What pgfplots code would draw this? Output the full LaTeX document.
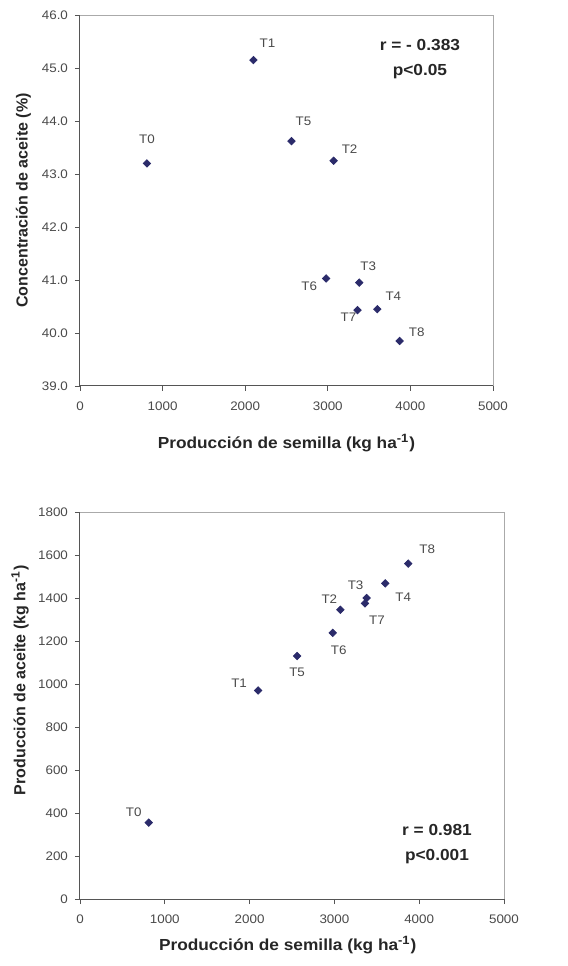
\documentclass[border=0pt]{standalone}
\usepackage{fontspec}
\setmainfont{Liberation Sans}
\newfontfamily\wide[FakeStretch=1.08]{Liberation Sans}
\usepackage{pgfplots}
\pgfplotsset{compat=1.18}
\usepackage{pgfplotstable}

\definecolor{markblue}{HTML}{2B2B6A}
\definecolor{axisgray}{HTML}{555555}
\definecolor{boxgray}{HTML}{AAAAAA}
\definecolor{ticktext}{HTML}{4A4A4A}

% x = semilla, y = aceite (%), label offsets dx dy in pt
\pgfplotstableread{
x    y      lab dx   dy
810  43.20  T0  0    12
2100 45.15  T1  7    8.5
3070 43.25  T2  8    6
3380 40.95  T3  4.5  8
3600 40.45  T4  8    6.5
2560 43.62  T5  6    10
2980 41.03  T6  -8.5 -4
3360 40.43  T7  -4.5 -3.5
3870 39.85  T8  8.5  4.5
}\conc

% x = semilla, y = aceite (kg/ha)
\pgfplotstableread{
x    y     lab dx   dy
810  355   T0  -7.5 5
2100 970   T1  -9.5 3.5
3070 1345  T2  -5.5 5.5
3380 1400  T3  -5.5 6.5
3600 1468  T4  9    -7
2560 1130  T5  0    -8
2980 1238  T6  3    -8.5
3360 1375  T7  6    -8.5
3870 1560  T8  9.5  7
}\prod

\pgfplotsset{
  scat/.style={
    scale only axis,
    clip=false,
    xmin=0, xmax=5000,
    xtick={0,1000,...,5000},
    tick align=outside,
    xtick pos=lower, ytick pos=left,
    major tick length=2.5pt,
    axis x line*=bottom, axis y line*=left,
    axis line style={-, axisgray, line width=0.5pt},
    tick style={axisgray, line width=0.4pt},
    ticklabel style={font=\wide\fontsize{6.2}{7}\selectfont, text=ticktext},
    xticklabel style={yshift=-2pt},
    /pgf/number format/assume math mode=true,
    /pgf/number format/1000 sep={},
    xlabel style={font=\wide\bfseries\fontsize{8}{9.5}\selectfont, text=black!85},
    ylabel style={font=\bfseries\fontsize{8}{9.5}\selectfont, text=black!85},
    xlabel={Producción de semilla (kg ha\textsuperscript{-1})},
  },
  tags/.style={
    only marks,
    mark=square*,
    mark size=1.3pt,
    mark options={rotate=45, fill=markblue, draw=markblue},
    point meta=explicit symbolic,
    nodes near coords,
    visualization depends on={\thisrow{dx} \as \dx},
    visualization depends on={\thisrow{dy} \as \dy},
    every node near coord/.append style={anchor=center, xshift=\dx pt, yshift=\dy pt,
      font=\wide\fontsize{6.2}{7}\selectfont, text=ticktext, inner sep=0pt},
  },
}

\begin{document}
\begin{tikzpicture}
\useasboundingbox (0,0) rectangle (284pt,483pt);

\begin{axis}[scat,
  at={(40pt,290pt)}, anchor=south west,
  width=206.5pt, height=185.5pt,
  ymin=39, ymax=46,
  ytick={39,40,...,46},
  yticklabel style={/pgf/number format/fixed, /pgf/number format/fixed zerofill, /pgf/number format/precision=1},
  ylabel={Concentración de aceite (\%)},
  xlabel style={at={(axis description cs:0.5,-0.1536)}, anchor=center},
  ylabel style={at={(axis description cs:-0.137,0.5)}, anchor=center},
]
\addplot[tags] table[x=x, y=y, meta=lab] {\conc};
\draw[boxgray, line width=0.4pt] (rel axis cs:0,1) -- (rel axis cs:1,1) -- (rel axis cs:1,0);
\node[font=\wide\bfseries\fontsize{8}{12.5}\selectfont, align=center, text=black!85]
  at (rel axis cs:0.823,0.88) {r = - 0.383\\p<0.05};
\end{axis}

\begin{axis}[scat,
  at={(40pt,33.5pt)}, anchor=south west,
  width=212pt, height=193.5pt,
  ymin=0, ymax=1800,
  ytick={0,200,...,1800},
  ylabel={Producción de aceite (kg ha\textsuperscript{-1})},
  xlabel style={at={(axis description cs:0.49,-0.119)}, anchor=center},
  ylabel style={at={(axis description cs:-0.1415,0.565)}, anchor=center},
]
\addplot[tags] table[x=x, y=y, meta=lab] {\prod};
\draw[boxgray, line width=0.4pt] (rel axis cs:0,1) -- (rel axis cs:1,1) -- (rel axis cs:1,0);
\node[font=\wide\bfseries\fontsize{8}{12.5}\selectfont, align=center, text=black!85]
  at (rel axis cs:0.842,0.142) {r = 0.981\\p<0.001};
\end{axis}
\end{tikzpicture}
\end{document}
